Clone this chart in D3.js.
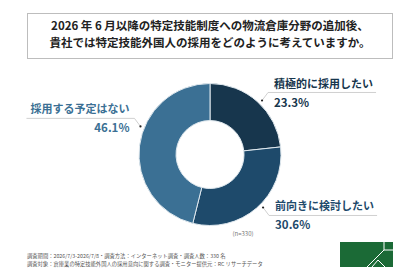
<!DOCTYPE html>
<html>
<head>
<meta charset="utf-8">
<script src="https://cdn.jsdelivr.net/npm/d3@7"></script>
<style>
  body { margin: 0; background: #fff; }
  svg { display: block; font-family: "Noto Sans CJK JP", "Noto Sans", sans-serif; }
</style>
</head>
<body>
<svg id="chart" width="420" height="280"></svg>
<script>
// data
const categories = ["積極的に採用したい", "前向きに検討したい", "採用する予定はない"]
const shares = [23.3, 30.6, 46.1]
const sliceColors = ["#17364d", "#1e4a6b", "#3b7094"]
const titleLines = ["2026 年 6 月以降の特定技能制度への物流倉庫分野の追加後、",
                    "貴社では特定技能外国人の採用をどのように考えていますか。"]
const footLines = ["調査期間：2026/7/3-2026/7/8・調査方法：インターネット調査・調査人数：330 名",
                   "調査対象：倉庫業の特定技能外国人の採用意向に関する調査・モニター提供元：RC リサーチデータ"]

const svg = d3.select("#chart")

// title box
svg.append("rect")
   .attr("x", 27.5).attr("y", 13.5)
   .attr("width", 365).attr("height", 45)
   .attr("fill", "none")
   .attr("stroke", "#bdbdbd")

svg.selectAll(".title")
   .data(titleLines)
   .enter()
   .append("text")
   .attr("class", "title")
   .attr("x", 210)
   .attr("y", (d, i) => 30 + i*17)
   .attr("text-anchor", "middle")
   .attr("font-size", 11.5)
   .attr("font-weight", "bold")
   .attr("fill", "#222")
   .text(d => d)

// donut
const cx = 210, cy = 154.5, outer = 71, inner = 34
const pie = d3.pie().sort(null).value(d => d)
const arcs = pie(shares)
const arc = d3.arc().innerRadius(inner).outerRadius(outer)

const g = svg.append("g").attr("transform", "translate(" + cx + "," + cy + ")")

g.selectAll("path")
 .data(arcs)
 .enter()
 .append("path")
 .attr("d", arc)
 .attr("fill", (d, i) => sliceColors[i])
 .attr("stroke", "#dfe8ee")
 .attr("stroke-width", 1)

// labels: side 1 = right, -1 = left; vert 1 = elbow below dot, -1 = above
const labelLayout = [
  {nudge: 2, side: 1, vert: -1},
  {nudge: -4, side: 1, vert: 1},
  {nudge: 15, side: -1, vert: -1}
]

arcs.forEach(function(d, i) {
  const lay = labelLayout[i]
  const a = (d.startAngle + d.endAngle)/2 + lay.nudge*Math.PI/180
  const r = outer + 4
  const px = Math.sin(a)*r, py = -Math.cos(a)*r
  const ex = px + lay.side*6, ey = py + lay.vert*8
  const lx = ex + lay.side*108

  g.append("polyline")
   .attr("points", [[px, py], [ex, ey], [lx, ey]].map(p => p.join(",")).join(" "))
   .attr("fill", "none")
   .attr("stroke", "#c4c4c4")
   .attr("stroke-width", 0.8)

  g.append("circle")
   .attr("cx", px).attr("cy", py)
   .attr("r", 1.1)
   .attr("fill", "#222")

  const tx = lay.side > 0 ? ex + 6 : ex - 5
  const anchor = lay.side > 0 ? "start" : "end"

  g.append("text")
   .attr("x", tx).attr("y", ey - 5)
   .attr("text-anchor", anchor)
   .attr("font-size", 11)
   .attr("font-weight", "bold")
   .attr("fill", sliceColors[i])
   .text(categories[i])

  g.append("text")
   .attr("x", tx).attr("y", ey + 14)
   .attr("text-anchor", anchor)
   .attr("font-size", 11.5)
   .attr("font-weight", "bold")
   .attr("fill", sliceColors[i])
   .text(shares[i].toFixed(1) + "%")
})

// n
svg.append("text")
   .attr("x", 243).attr("y", 236)
   .attr("text-anchor", "middle")
   .attr("font-size", 6)
   .attr("fill", "#777")
   .text("(n=330)")

// footer
svg.selectAll(".foot")
   .data(footLines)
   .enter()
   .append("text")
   .attr("class", "foot")
   .attr("x", 27)
   .attr("y", (d, i) => 257.5 + i*8)
   .attr("font-size", 5.3)
   .attr("fill", "#555")
   .text(d => d)

// logo
const logo = svg.append("g")
logo.append("rect")
    .attr("x", 340).attr("y", 242)
    .attr("width", 53).attr("height", 25)
    .attr("fill", "#1b6a36")
logo.append("polyline")
    .attr("points", "384,242 384,250 393,250")
    .attr("fill", "none").attr("stroke", "#fff").attr("stroke-width", 1)
logo.append("line")
    .attr("x1", 384).attr("y1", 250).attr("x2", 367).attr("y2", 267)
    .attr("stroke", "#fff").attr("stroke-width", 1)
logo.append("polyline")
    .attr("points", "372,267 378,260 385,267")
    .attr("fill", "none").attr("stroke", "#fff").attr("stroke-width", 1)
</script>
</body>
</html>
